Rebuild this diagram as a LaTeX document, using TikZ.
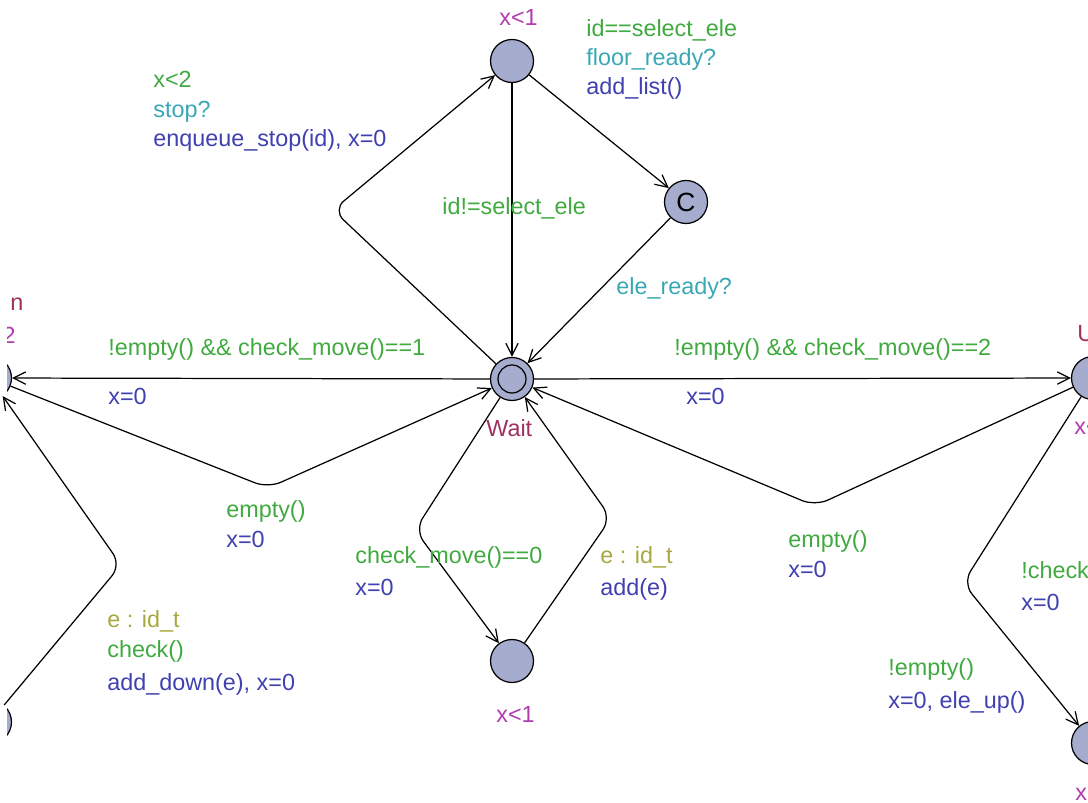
\documentclass[tikz,border=0pt]{standalone}
\usepackage{fontspec}
\setmainfont{Liberation Sans}
\usetikzlibrary{arrows.meta}

\definecolor{statefill}{RGB}{165,172,206}
\definecolor{guardcol}{RGB}{64,170,64}
\definecolor{synccol}{RGB}{58,168,180}
\definecolor{updcol}{RGB}{64,64,176}
\definecolor{selcol}{RGB}{168,168,64}
\definecolor{invcol}{RGB}{176,60,176}
\definecolor{namecol}{RGB}{160,48,96}

\tikzset{
  loc/.style={circle,draw,fill=statefill,minimum size=0.86cm,inner sep=0pt,line width=0.7pt},
  trans/.style={line width=0.7pt,-{Straight Barb[length=7pt,width=7pt]},rounded corners=8pt},
  lab/.style={anchor=base west,inner sep=0pt,font=\fontsize{13.3}{15}\selectfont},
  guard/.style={lab,text=guardcol},
  sync/.style={lab,text=synccol},
  upd/.style={lab,text=updcol},
  sel/.style={lab,text=selcol},
  inv/.style={lab,text=invcol},
  lname/.style={lab,text=namecol}
}

\begin{document}
\begin{tikzpicture}[x=0.02cm,y=-0.02cm]
\useasboundingbox (0,0) rectangle (1088,803);
\clip (0,0) rectangle (1088,803);

\node[loc,path picture={\draw[line width=0.7pt] (path picture bounding box.center) circle (0.28cm);}] (wait) at (512,379) {};
\node[loc] (top) at (512,61) {};
\node[loc,font=\fontsize{15}{15}\selectfont] (comm) at (686,202) {C};
\node[loc] (bot) at (512,661) {};
\node[loc] (up) at (1093,378) {};
\node[loc] (uplow) at (1093,743) {};
\begin{scope}
\clip (7,0) rectangle (1088,803);
\node[loc] (down) at (-10,378) {};
\node[loc] (downlow) at (-10,722) {};
\node[inv,anchor=base east] (downinv) at (16,344) {x<2};
\end{scope}

\coordinate (bstop) at (333,210);
\coordinate (bdown) at (268,488);
\coordinate (bcheck) at (121,565);
\coordinate (bempty) at (815,506);
\coordinate (bmove) at (415,530);
\coordinate (badd) at (611,518);
\coordinate (bup) at (963,583);

\draw[trans] (wait) -- (bstop) -- (top);
\draw[trans] (top) -- (wait);
\draw[trans] (top) -- (comm);
\draw[trans] (comm) -- (wait);
\draw[trans] (wait) -- (down);
\draw[trans] (down) -- (bdown) -- (wait);
\draw[trans] (downlow) -- (bcheck) -- (down);
\draw[trans] (wait) -- (up);
\draw[trans] (up) -- (bempty) -- (wait);
\draw[trans] (wait) -- (bmove) -- (bot);
\draw[trans] (bot) -- (badd) -- (wait);
\draw[trans] (up) -- (bup) -- (uplow);

\node[lname] (waitname) at (486,437) {Wait};
\node[lname] (downname) at (10,311) {n};
\node[lname] (upname) at (1077,342) {U};
\node[inv] (topinv) at (499,26) {x<1};
\node[inv] (botinv) at (496,722) {x<1};
\node[inv] (upinv) at (1074,435) {x<};
\node[inv] (uplowinv) at (1075,800) {x<};

\node[guard] (stopg) at (153,88) {x<2};
\node[sync] (stops) at (153,118) {stop?};
\node[upd] (stopu) at (153,147) {enqueue\_stop(id), x=0};

\node[guard] (listg) at (586,37) {id==select\_ele};
\node[sync] (lists) at (586,66) {floor\_ready?};
\node[upd] (listu) at (586,95) {add\_list()};

\node[guard] (passg) at (442,215) {id!=select\_ele};
\node[sync] (readys) at (616,295) {ele\_ready?};

\node[guard] (leftg) at (108,356) {!empty() \&\& check\_move()==1};
\node[upd] (leftu) at (108,405) {x=0};
\node[guard] (rightg) at (674,356) {!empty() \&\& check\_move()==2};
\node[upd] (rightu) at (686,405) {x=0};

\node[guard] (backlg) at (226,517) {empty()};
\node[upd] (backlu) at (226,547) {x=0};
\node[guard] (backrg) at (788,547) {empty()};
\node[upd] (backru) at (788,577) {x=0};

\node[guard] (moveg) at (355,563) {check\_move()==0};
\node[upd] (moveu) at (355,595) {x=0};
\node[sel] (adds) at (600,563) {e : id\_t};
\node[upd] (addu) at (600,595) {add(e)};

\node[sel] (checks) at (107,627) {e : id\_t};
\node[guard] (checkg) at (107,657) {check()};
\node[upd] (checku) at (107,690) {add\_down(e), x=0};

\node[guard] (upg) at (1021,578) {!check};
\node[upd] (upu) at (1021,610) {x=0};
\node[guard] (eleg) at (888,675) {!empty()};
\node[upd] (eleu) at (888,708) {x=0, ele\_up()};
\end{tikzpicture}
\end{document}
